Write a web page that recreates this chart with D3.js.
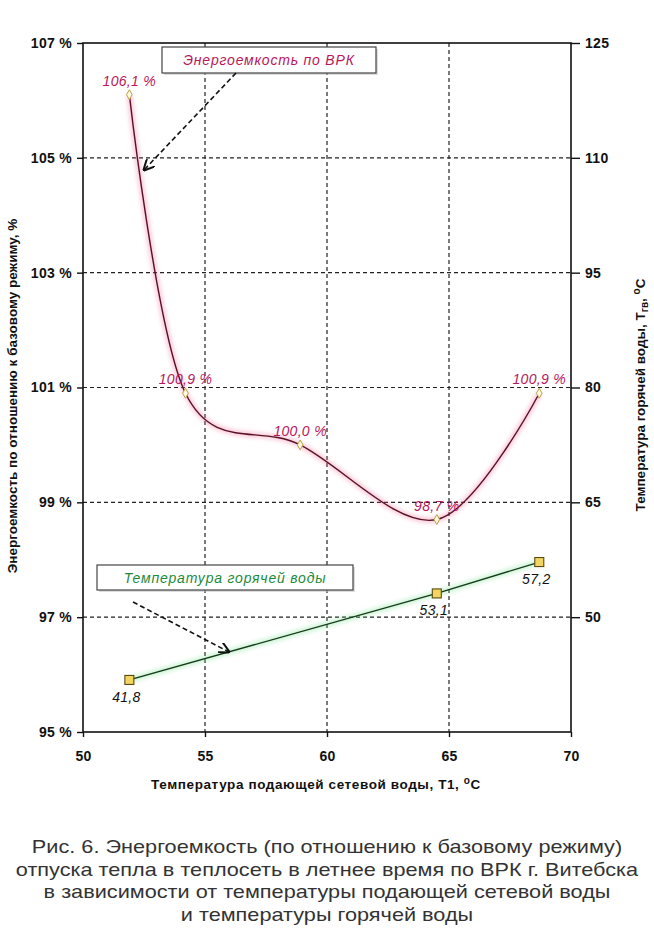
<!DOCTYPE html>
<html>
<head>
<meta charset="utf-8">
<script src="https://cdn.jsdelivr.net/npm/d3@7"></script>
<style>
  body { margin: 0; background: #fff; }
  svg { display: block; }
</style>
</head>
<body>
<div id="chart"></div>
<script>
// chart size
const width = 654;
const height = 944;

// data
const supplyTemp = [51.9, 54.2, 58.9, 64.5, 68.7];          // T1, °C
const energyIntensity = [106.1, 100.9, 100.0, 98.7, 100.9]; // %
const energyLabels = ["106,1 %", "100,9 %", "100,0 %", "98,7 %", "100,9 %"];

const hotSupplyTemp = [51.9, 64.5, 68.7];
const hotWaterTemp = [41.8, 53.1, 57.2];
const hotWaterLabels = ["41,8", "53,1", "57,2"];

const xTicks = [50, 55, 60, 65, 70];
const leftTicks = [95, 97, 99, 101, 103, 105, 107];
const rightTicks = [50, 65, 80, 95, 110, 125];

const captionLines = [
  "Рис. 6. Энергоемкость (по отношению к базовому режиму)",
  "отпуска тепла в теплосеть в летнее время по ВРК г. Витебска",
  "в зависимости от температуры подающей сетевой воды",
  "и  температуры горячей воды"
];

const margin = {left: 83, right: 571, top: 43, bottom: 732};

const svg = d3.select("#chart").append("svg")
    .attr("width", width)
    .attr("height", height)
    .style("font-family", "Arial, 'Liberation Sans', sans-serif");

const x = d3.scaleLinear().domain([50, 70]).range([margin.left, margin.right]);
const yL = d3.scaleLinear().domain([95, 107]).range([margin.bottom, margin.top]);
const yR = d3.scaleLinear().domain([35, 125]).range([margin.bottom, margin.top]);

// grid
svg.append("g")
  .selectAll("line")
  .data(leftTicks.filter(d => d > 95 && d < 107))
  .join("line")
    .attr("x1", margin.left).attr("x2", margin.right)
    .attr("y1", d => yL(d)).attr("y2", d => yL(d))
    .attr("stroke", "#222").attr("stroke-width", 1.2)
    .attr("stroke-dasharray", "4,3");

svg.append("g")
  .selectAll("line")
  .data(xTicks.filter(d => d > 50 && d < 70))
  .join("line")
    .attr("x1", d => x(d)).attr("x2", d => x(d))
    .attr("y1", margin.top).attr("y2", margin.bottom)
    .attr("stroke", "#222").attr("stroke-width", 1.2)
    .attr("stroke-dasharray", "4,3");

// frame
svg.append("rect")
    .attr("x", margin.left).attr("y", margin.top)
    .attr("width", margin.right - margin.left)
    .attr("height", margin.bottom - margin.top)
    .attr("fill", "none").attr("stroke", "#111").attr("stroke-width", 1.6);

// axes
const styleAxis = g => {
  g.select(".domain").remove();
  g.selectAll(".tick line").attr("stroke", "#111").attr("stroke-width", 1.4);
  g.selectAll(".tick text")
    .attr("fill", "#111")
    .style("font-size", "14px")
    .style("font-weight", "bold")
    .style("letter-spacing", "0.3px")
    .style("font-family", "Arial, 'Liberation Sans', sans-serif");
};

svg.append("g")
    .attr("transform", `translate(0,${margin.bottom})`)
    .call(d3.axisBottom(x).tickValues(xTicks).tickSize(5).tickPadding(14))
    .call(styleAxis);

svg.append("g")
    .attr("transform", `translate(${margin.left},0)`)
    .call(d3.axisLeft(yL).tickValues(leftTicks).tickSize(6).tickPadding(5).tickFormat(d => d + " %"))
    .call(styleAxis);

svg.append("g")
    .attr("transform", `translate(${margin.right},0)`)
    .call(d3.axisRight(yR).tickValues(rightTicks).tickSize(9).tickPadding(5))
    .call(styleAxis);

// axis titles
const titleFont = "13.5px";
const xTitle = svg.append("text")
    .attr("x", 316).attr("y", 789)
    .attr("text-anchor", "middle")
    .style("font-size", titleFont).style("font-weight", "bold")
    .style("letter-spacing", "0.6px").attr("fill", "#111");
xTitle.append("tspan").text("Температура подающей сетевой воды, Т1, ");
xTitle.append("tspan").attr("dy", -5).style("font-size", "10px").text("o");
xTitle.append("tspan").attr("dy", 5).text("C");

svg.append("text")
    .attr("transform", "translate(17,396) rotate(-90)")
    .attr("text-anchor", "middle")
    .style("font-size", titleFont).style("font-weight", "bold").attr("fill", "#111")
    .text("Энергоемкость по отношению к базовому режиму, %");

const rTitle = svg.append("text")
    .attr("transform", "translate(645,395) rotate(-90)")
    .attr("text-anchor", "middle")
    .style("font-size", titleFont).style("font-weight", "bold").attr("fill", "#111");
rTitle.append("tspan").text("Температура горячей воды, Т");
rTitle.append("tspan").attr("dy", 3).style("font-size", "10px").text("гв");
rTitle.append("tspan").attr("dy", -3).text(", ");
rTitle.append("tspan").attr("dy", -5).style("font-size", "10px").text("o");
rTitle.append("tspan").attr("dy", 5).text("C");

// glow filter
const defs = svg.append("defs");
const blur = defs.append("filter").attr("id", "glow").attr("x", "-20%").attr("y", "-20%").attr("width", "140%").attr("height", "140%");
blur.append("feGaussianBlur").attr("stdDeviation", 2);

const marker = defs.append("marker")
    .attr("id", "arrow").attr("viewBox", "0 0 10 10")
    .attr("refX", 9).attr("refY", 5)
    .attr("markerWidth", 7).attr("markerHeight", 7)
    .attr("orient", "auto-start-reverse");
marker.append("path").attr("d", "M0,0 L10,5 L0,10").attr("fill", "none").attr("stroke", "#111").attr("stroke-width", 1.8);

// energy intensity series (Excel-like smoothed line)
const energyData = supplyTemp.map((t, i) => ({x: t, y: energyIntensity[i], label: energyLabels[i]}));
const energyLine = d3.line()
    .x(d => x(d.x)).y(d => yL(d.y))
    .curve(d3.curveCardinal.tension(0));

svg.append("path")
    .datum(energyData)
    .attr("d", energyLine)
    .attr("fill", "none").attr("stroke", "#f06a9a").attr("stroke-width", 5)
    .attr("opacity", 0.4).attr("filter", "url(#glow)");
svg.append("path")
    .datum(energyData)
    .attr("d", energyLine)
    .attr("fill", "none").attr("stroke", "#5a1023").attr("stroke-width", 1.4);

svg.append("g")
  .selectAll("path")
  .data(energyData)
  .join("path")
    .attr("transform", d => `translate(${x(d.x)},${yL(d.y)})`)
    .attr("d", d3.symbol(d3.symbolDiamond, 28))
    .attr("fill", "#fffbe0").attr("stroke", "#b8a040").attr("stroke-width", 1);

svg.append("g")
  .selectAll("text")
  .data(energyData)
  .join("text")
    .attr("x", d => x(d.x)).attr("y", d => yL(d.y) - 9)
    .attr("text-anchor", "middle")
    .style("font-size", "14px").style("font-style", "italic")
    .style("letter-spacing", "0.3px")
    .attr("fill", "#b8175a")
    .text(d => d.label);

// hot water series
const hotData = hotSupplyTemp.map((t, i) => ({x: t, y: hotWaterTemp[i], label: hotWaterLabels[i]}));
const hotLine = d3.line().x(d => x(d.x)).y(d => yR(d.y));

svg.append("path")
    .datum(hotData)
    .attr("d", hotLine)
    .attr("fill", "none").attr("stroke", "#6fe08a").attr("stroke-width", 5)
    .attr("opacity", 0.4).attr("filter", "url(#glow)");
svg.append("path")
    .datum(hotData)
    .attr("d", hotLine)
    .attr("fill", "none").attr("stroke", "#143a18").attr("stroke-width", 1.4);

svg.append("g")
  .selectAll("rect")
  .data(hotData)
  .join("rect")
    .attr("x", d => x(d.x) - 4.5).attr("y", d => yR(d.y) - 4.5)
    .attr("width", 9).attr("height", 9)
    .attr("fill", "#f2d561").attr("stroke", "#5a4a10").attr("stroke-width", 1.1);

svg.append("g")
  .selectAll("text")
  .data(hotData)
  .join("text")
    .attr("x", d => x(d.x) - 3).attr("y", d => yR(d.y) + 22)
    .attr("text-anchor", "middle")
    .style("font-size", "14px").style("font-style", "italic")
    .style("letter-spacing", "0.3px")
    .attr("fill", "#111")
    .text(d => d.label);

// callout boxes
function callout(bx, by, bw, bh, text, color, from, to) {
  svg.append("rect")
      .attr("x", bx + 2).attr("y", by + 2).attr("width", bw).attr("height", bh)
      .attr("fill", "#bbb").attr("opacity", 0.5);
  svg.append("rect")
      .attr("x", bx).attr("y", by).attr("width", bw).attr("height", bh)
      .attr("fill", "#fff").attr("stroke", "#444").attr("stroke-width", 1.2);
  svg.append("text")
      .attr("x", bx + bw / 2).attr("y", by + bh / 2 + 5)
      .attr("text-anchor", "middle")
      .style("font-size", "14px").style("font-style", "italic")
      .style("letter-spacing", "0.8px")
      .attr("fill", color)
      .text(text);
  svg.append("line")
      .attr("x1", from[0]).attr("y1", from[1]).attr("x2", to[0]).attr("y2", to[1])
      .attr("stroke", "#111").attr("stroke-width", 1.6)
      .attr("stroke-dasharray", "5,3")
      .attr("marker-end", "url(#arrow)");
}

callout(162, 47, 214, 26, "Энергоемкость по ВРК", "#b8175a", [236, 73], [144, 170]);
callout(97, 565, 256, 25, "Температура горячей воды", "#1d8a3a", [133, 602], [229, 652]);

// caption (source picture is stretched horizontally)
svg.append("g")
  .selectAll("text")
  .data(captionLines)
  .join("text")
    .attr("transform", (d, i) => `translate(327,${853 + i * 22.5}) scale(1.24,1)`)
    .attr("text-anchor", "middle")
    .style("font-size", "17.5px")
    .attr("fill", "#333")
    .text(d => d);
</script>
</body>
</html>
